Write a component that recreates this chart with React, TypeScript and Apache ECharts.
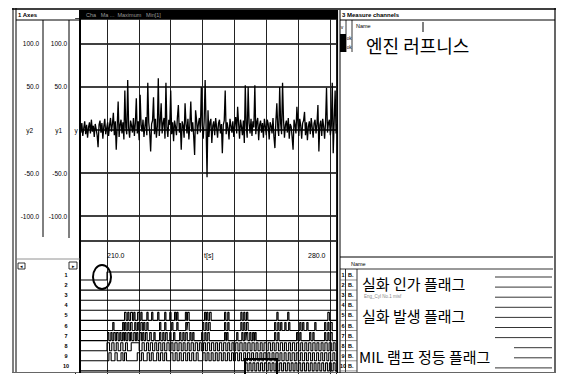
import React, { useEffect, useRef } from "react";
import * as echarts from "echarts";

// ---------- data ----------
const T0 = 201.5; // first sample time [s]
const DT = 0.3; // sample step [s]
const roughness = [
  4, -3, 8, -7, 2, 10, -5, 6, -9, 3,
  9, -4, 12, -2, 5, -8, 7, 1, -6, -20,
  6, 11, -3, 8, -10, 4, 13, -5, 2, 9,
  -7, 5, 14, -2, 7, 20, -6, 10, -23, 4,
  33, -8, 6, 12, -4, 9, -11, 46, 3, -5,
  58, 2, -9, 11, 5, -3, 14, -7, 8, 37,
  -4, 10, -12, 41, 6, -2, 12, -8, 4, 15,
  -6, 55, 9, -3, -25, 7, 11, 38, -5, 13,
  -9, 4, 60, -7, 10, 31, -4, 8, 14, -10,
  55, 3, -8, 12, 6, 46, -5, 9, -13, 11,
  4, -6, 15, 29, -3, 8, -23, 10, 5, -9,
  31, 7, -4, 13, -11, 6, 33, -2, 9, -7,
  -29, 23, 12, -5, 8, 14, -3, 50, 6, -10,
  11, 58, 4, -55, 23, -8, 9, 13, -15, 5,
  10, -6, 14, 3, -9, 8, 12, -4, 7, -27,
  6, 11, 46, -5, 9, 2, -11, 13, 5, -3,
  10, -8, 7, 15, -4, 27, 8, -10, 12, 4,
  -6, 11, -15, 52, 5, -9, 50, 8, -4, 13,
  -7, 10, 3, 52, -5, 9, 14, -12, 6, 11,
  -3, 8, -9, 13, 4, -6, 12, 7, -11, 9,
  5, -4, 14, -8, -21, 10, 31, 3, -7, 50,
  8, -5, 55, 12, -9, 6, 11, -3, 14, -10,
  7, 4, -8, -23, 12, 6, -4, 27, 9, -7,
  13, 5, -10, 8, 11, 21, -6, 9, -12, 4,
  10, -5, 14, 3, -9, 8, 12, -4, 7, 29,
  -25, 6, 11, -7, 13, 4, -10, 9, 49, -3,
  8, 12, -6, 5, 55, -27, 10, 46, -4, 7,
];

// digital channels: [start, end] of each high pulse, in seconds
const ch1 = [[210.0, 283]];
const ch2: number[][] = [];
const ch3: number[][] = [];
const ch4: number[][] = [];
const ch5 = [
  [215.5, 216.0], [216.5, 216.9], [217.4, 218.0], [218.4, 218.8], [219.6, 220.1], [220.6, 221.0],
  [222.5, 222.9], [224.0, 224.4], [225.9, 226.3], [228.1, 228.5], [229.7, 230.1], [231.2, 231.6],
  [231.9, 232.3], [234.6, 235.0], [235.3, 235.8], [240.6, 241.0], [241.3, 241.7], [242.2, 242.7],
  [246.9, 247.3], [247.9, 248.3], [252.0, 252.4], [252.9, 253.3], [253.8, 254.2], [263.3, 263.7],
  [266.7, 267.1], [279.3, 279.8],
];
const ch6 = [
  [211.8, 212.2], [214.9, 215.3], [215.6, 216.0], [216.5, 216.9], [217.4, 217.9], [218.7, 219.1],
  [219.6, 220.0], [220.6, 221.1], [221.5, 221.9], [222.5, 222.9], [226.5, 226.9], [228.1, 228.5],
  [230.3, 230.7], [231.9, 232.3], [234.7, 235.1], [235.3, 235.8], [240.0, 240.4], [241.0, 241.4],
  [241.9, 242.4], [246.9, 247.3], [247.9, 248.3], [252.0, 252.4], [252.9, 253.3], [253.8, 254.3],
  [262.6, 263.0], [263.6, 264.0], [264.5, 264.9], [265.8, 266.2], [267.0, 267.4], [270.5, 270.9],
  [271.4, 271.8], [272.7, 273.1], [275.2, 275.6], [278.3, 278.7], [279.3, 279.7], [280.2, 280.7],
];
const ch7 = [
  [210.2, 210.6], [211.2, 211.6], [212.1, 212.6], [213.0, 213.5], [214.0, 214.4], [214.9, 215.3],
  [215.6, 216.0], [216.5, 217.0], [217.4, 217.8], [218.4, 218.9], [219.3, 219.7], [220.3, 220.8],
  [221.2, 221.6], [222.1, 222.6], [223.4, 223.9], [224.7, 225.1], [226.5, 226.9], [227.5, 227.9],
  [228.4, 228.9], [229.7, 230.1], [230.9, 231.3], [232.8, 233.2], [233.8, 234.2], [234.7, 235.2],
  [236.0, 236.4], [236.9, 237.3], [239.7, 240.1], [240.7, 241.1], [241.6, 242.1], [246.9, 247.3],
  [247.6, 248.0], [250.7, 251.1], [252.3, 252.7], [253.2, 253.6], [253.8, 254.2], [254.8, 255.2],
  [255.7, 256.1], [256.4, 256.8], [262.6, 263.0], [263.6, 264.0], [269.5, 269.9], [270.5, 270.9],
  [273.6, 274.0], [274.6, 275.0], [278.3, 278.7], [279.3, 279.7], [280.2, 280.7],
];
const ch8 = [
  [210.0, 210.8], [211.5, 212.2], [212.9, 213.5], [214.3, 215.0], [215.8, 216.4], [217.6, 220.1],
  [221.0, 221.7], [222.4, 223.0], [223.6, 224.3], [225.0, 225.6], [226.2, 226.9], [227.5, 228.1],
  [228.8, 229.5], [230.1, 230.7], [231.3, 232.0], [232.6, 233.3], [233.9, 234.5], [235.2, 235.8],
  [236.4, 237.1], [237.7, 238.4], [239.0, 239.6], [240.3, 240.9], [241.5, 242.2], [242.8, 243.5],
  [244.1, 244.7], [245.3, 246.0], [246.6, 247.3], [247.9, 248.5], [249.2, 249.8], [250.4, 251.1],
  [251.7, 252.4], [253.0, 253.6], [254.2, 254.9], [255.5, 256.2], [256.8, 257.4], [258.1, 258.7],
  [259.3, 260.0], [260.6, 261.3], [261.9, 262.5], [263.1, 263.8], [264.4, 265.1], [265.7, 266.3],
  [267.0, 267.6], [268.2, 268.9], [269.5, 270.2], [270.8, 271.4], [272.1, 272.7], [273.3, 274.0],
  [274.6, 275.3], [275.9, 276.5], [277.2, 277.8], [278.4, 279.1], [279.7, 280.4], [281.0, 281.6],
];
const ch9 = [
  [210.6, 211.3], [212.5, 213.2], [214.4, 215.0], [215.5, 216.1], [219.5, 220.2], [220.8, 221.4],
  [222.6, 223.3], [223.9, 224.5], [225.6, 226.2], [226.8, 227.5], [228.1, 228.7], [230.0, 230.7],
  [231.4, 232.0], [232.7, 233.3], [234.0, 234.7], [235.3, 235.9], [236.6, 237.2], [238.0, 238.6],
  [240.1, 240.8], [241.4, 242.0], [242.7, 243.3], [244.0, 244.6], [245.2, 245.9], [246.5, 247.1],
  [247.8, 248.4], [249.1, 249.7], [250.3, 251.0], [251.6, 252.2], [252.9, 253.5], [254.1, 254.8],
  [255.4, 256.0], [256.7, 257.3], [258.0, 258.6], [259.2, 259.9], [260.5, 261.1], [261.8, 262.4],
  [263.0, 263.7], [264.3, 264.9], [265.6, 266.2], [266.9, 267.5], [268.1, 268.8], [269.4, 270.0],
  [270.7, 271.3], [272.0, 272.6], [273.2, 273.9], [274.5, 275.1], [275.8, 276.4], [277.1, 277.7],
  [278.3, 279.0], [279.6, 280.2], [280.9, 281.5],
];
const ch10 = [
  [253.4, 254.0], [254.6, 255.2], [255.8, 256.4], [257.0, 257.6], [258.2, 258.8], [259.4, 260.0],
  [260.6, 261.2], [261.8, 262.4], [263.0, 263.6], [264.2, 264.8], [265.4, 266.0], [266.6, 267.2],
  [267.8, 268.4], [269.0, 269.6], [270.2, 270.8], [271.4, 272.0], [272.6, 273.2], [273.8, 274.4],
  [275.0, 275.6], [276.2, 276.8], [277.4, 278.0], [278.6, 279.2], [279.8, 280.4], [281.0, 281.6],
];
const digitalChannels = [ch1, ch2, ch3, ch4, ch5, ch6, ch7, ch8, ch9, ch10];
const rowLabels = ["1", "2", "3", "4", "5", "6", "7", "8", "9", "10"];

const timeLabels = ["210.0", "t[s]", "280.0"];
const axisNames = ["y2", "y1", "y"];
const panelTitles = ["1 Axes", "3 Measure channels", "Name"];
const channelTitle = "엔진 러프니스";
const flagNotes = ["실화 인가 플래그", "실화 발생 플래그", "MIL 램프 정등 플래그"];

// ---------- component ----------
const INK = "#000000";
const SANS = "Liberation Sans, Arial, sans-serif";
const KR = "Noto Sans CJK KR, sans-serif";

function pulsesToLine(pulses: number[][], base: number, high: number) {
  const pts: number[][] = [[199, base]];
  for (const [s, e] of pulses) {
    pts.push([s, base], [s, high], [e, high], [e, base]);
  }
  pts.push([283, base]);
  return pts;
}

export default function App() {
  const ref = useRef<HTMLDivElement>(null);
  useEffect(() => {
    if (!ref.current) return;
    const chart = echarts.init(ref.current, undefined, { renderer: "svg" });

    const analog = roughness.map((v, i) => [+(T0 + i * DT).toFixed(2), v]);
    const ROW = 10.1;
    const digitalSeries = digitalChannels.map((p, i) => {
      const base = 39 + ROW * i;
      return {
        type: "line",
        xAxisIndex: 1,
        yAxisIndex: 2,
        data: pulsesToLine(p, base, base - 8),
        symbol: "none",
        lineStyle: { color: INK, width: 1.1 },
        silent: true,
      };
    });

    const rowY = (i: number) => 275 + ROW * i;
    const ln = (x1: number, y1: number, x2: number, y2: number, w = 1, c = INK, z = 60) => ({
      type: "line",
      shape: { x1, y1, x2, y2 },
      style: { stroke: c, lineWidth: w },
      z,
      silent: true,
    });
    const tx = (x: number, y: number, t: string, size = 6.5, opts: any = {}) => ({
      type: "text",
      x,
      y,
      z: 70,
      silent: true,
      style: {
        text: t,
        fill: opts.fill || INK,
        fontSize: size,
        fontFamily: opts.family || SANS,
        fontWeight: opts.weight || "normal",
        align: opts.align || "left",
        verticalAlign: "middle",
      },
    });

    const g: any[] = [];
    // cover strip left of plot border
    g.push({ type: "rect", shape: { x: 74, y: 19, width: 5.5, height: 354 }, style: { fill: "#fff" }, z: 50, silent: true });
    // outer frame
    g.push(ln(12, 9, 556, 9, 1.5));
    g.push(ln(13, 8, 13, 373, 1));
    g.push(ln(16, 8, 16, 373, 1));
    g.push(ln(555, 8, 555, 373, 1.2));
    g.push(ln(12, 372.5, 556, 372.5, 1, "#666"));
    // plot header bar
    g.push({ type: "rect", shape: { x: 80, y: 10, width: 257, height: 9 }, style: { fill: INK }, z: 60, silent: true });
    g.push(tx(86, 14.5, "Cha   Ma ...  Maximum   Min[1]", 5.5, { fill: "#9a9a9a" }));
    // plot borders
    g.push(ln(80, 10, 80, 373, 2));
    g.push(ln(337.5, 10, 337.5, 373, 1.2));
    g.push(ln(340, 10, 340, 373, 1));
    // left panel
    g.push(tx(18, 14.5, panelTitles[0], 6, { weight: "bold" }));
    g.push(ln(16, 20, 80, 20, 1));
    g.push(ln(43, 20, 43, 237, 1));
    g.push(ln(69, 20, 69, 238, 1));
    g.push(tx(76, 130, axisNames[2], 6.5, { align: "center" }));
    g.push(ln(16, 259, 80, 259, 0.8, "#777"));
    g.push({ type: "rect", shape: { x: 18, y: 263, width: 7, height: 6 }, style: { fill: "#fff", stroke: INK, lineWidth: 0.8 }, z: 60, silent: true });
    g.push(tx(21.5, 266, "◂", 5, { align: "center" }));
    g.push({ type: "rect", shape: { x: 69, y: 262, width: 8, height: 7 }, style: { fill: "#fff", stroke: INK, lineWidth: 0.8 }, z: 60, silent: true });
    g.push(tx(73, 265.5, "▸", 5, { align: "center" }));
    rowLabels.forEach((r, i) => g.push(tx(66, rowY(i), r, 5.5, { align: "center", weight: "bold" })));
    // time labels
    g.push(tx(107, 255, timeLabels[0], 7));
    g.push(tx(204, 255, timeLabels[1], 7));
    g.push(tx(308, 255, timeLabels[2], 7));
    // annotations on plot
    g.push({ type: "ellipse", shape: { cx: 102, cy: 277, rx: 9, ry: 12 }, style: { fill: "none", stroke: INK, lineWidth: 2 }, z: 65, silent: true });
    g.push({ type: "rect", shape: { x: 245, y: 359, width: 32, height: 16 }, style: { fill: "none", stroke: INK, lineWidth: 2 }, z: 65, silent: true });
    // right panel (top)
    g.push(tx(342, 14.5, panelTitles[1], 6, { weight: "bold" }));
    g.push(ln(340, 20, 555, 20, 1));
    g.push(ln(346, 20, 346, 52, 0.8));
    g.push(ln(352, 20, 352, 52, 0.8));
    g.push(tx(356, 26, panelTitles[2], 5.5));
    g.push(ln(423, 22, 423, 32, 1));
    g.push({ type: "rect", shape: { x: 340, y: 34, width: 6, height: 18 }, style: { fill: INK }, z: 60, silent: true });
    g.push(tx(342, 27, "v", 5, { align: "center" }));
    g.push(tx(349, 38, "ok", 4.5, { align: "center" }));
    g.push(tx(349, 47, "ok", 4.5, { align: "center" }));
    g.push(tx(366, 45, channelTitle, 18, { family: KR }));
    g.push(ln(340, 257, 553, 257, 1));
    // right panel (bottom list)
    g.push(tx(351, 264, panelTitles[2], 5.5));
    g.push(ln(340, 269, 553, 269, 0.8));
    g.push(ln(345.5, 269, 345.5, 372, 0.8));
    g.push(ln(357, 269, 357, 372, 0.8));
    rowLabels.forEach((r, i) => {
      g.push(tx(343, rowY(i), r, 5.5, { align: "center", weight: "bold" }));
      g.push(tx(348, rowY(i), "B.", 5.5, { weight: "bold" }));
      g.push(ln(340, rowY(i) + 5, 357, rowY(i) + 5, 0.6, "#444"));
      const x0 = i === 7 || i === 8 ? 514 : 495;
      g.push(ln(x0, rowY(i) + 2, 552, rowY(i) + 2, 0.8));
    });
    g.push(tx(364, rowY(2) + 1, "Eng_Cyl No.1 misf", 4.5, { fill: "#888" }));
    g.push(tx(362, 283, flagNotes[0], 15, { family: KR }));
    g.push(tx(362, 315, flagNotes[1], 15, { family: KR }));
    g.push(tx(359, 356, flagNotes[2], 15, { family: KR }));

    const yLabel = (name: string) => (v: number) => (v === 0 ? `{n|${name}}` : v.toFixed(1));

    chart.setOption({
      animation: false,
      backgroundColor: "#fff",
      grid: [
        { left: 75.14, right: 224.6, top: 19, bottom: 133 },
        { left: 75.14, right: 224.6, top: 241, bottom: 0 },
      ],
      xAxis: [0, 1].map((gi) => ({
        type: "value",
        gridIndex: gi,
        min: 200,
        max: 282,
        interval: 10,
        axisLine: { show: false },
        axisTick: { show: false },
        axisLabel: { show: false },
        splitLine: { show: true, lineStyle: { color: "#222", width: 1 } },
      })),
      yAxis: [
        {
          type: "value",
          gridIndex: 0,
          position: "left",
          offset: 0,
          min: -129,
          max: 129,
          axisLine: { show: false },
          axisTick: { show: false },
          splitLine: { show: true, lineStyle: { color: INK, width: 1.5 } },
          axisLabel: {
            margin: 8,
            fontSize: 6.5,
            fontFamily: SANS,
            color: INK,
            showMinLabel: false,
            showMaxLabel: false,
            formatter: yLabel(axisNames[1]),
            rich: { n: { fontSize: 6.5, fontFamily: SANS, color: INK, padding: [0, 5, 0, 0] } },
          },
        },
        {
          type: "value",
          gridIndex: 0,
          position: "left",
          offset: 0,
          min: -129,
          max: 129,
          axisLine: { show: false },
          axisTick: { show: false },
          splitLine: { show: false },
          axisLabel: {
            margin: 36,
            fontSize: 6.5,
            fontFamily: SANS,
            color: INK,
            showMinLabel: false,
            showMaxLabel: false,
            formatter: yLabel(axisNames[0]),
            rich: { n: { fontSize: 6.5, fontFamily: SANS, color: INK, padding: [0, 6, 0, 0] } },
          },
        },
        {
          type: "value",
          gridIndex: 1,
          min: 0,
          max: 133,
          inverse: true,
          show: false,
          splitLine: { show: false },
        },
      ],
      series: [
        {
          type: "line",
          xAxisIndex: 0,
          yAxisIndex: 0,
          data: analog,
          symbol: "none",
          lineStyle: { color: INK, width: 1.3 },
          silent: true,
        },
        ...digitalSeries,
      ],
      graphic: g,
    });
    return () => chart.dispose();
  }, []);
  return <div ref={ref} style={{ position: "absolute", left: 0, top: 0, width: 561, height: 374, background: "#fff" }} />;
}
